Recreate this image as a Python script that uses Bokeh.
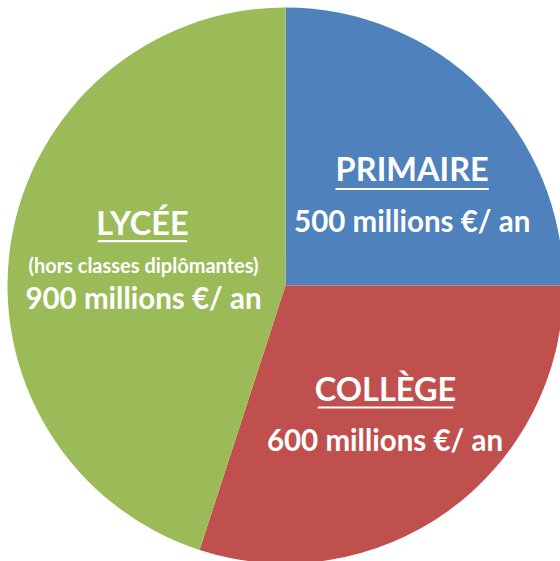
import numpy as np
from bokeh.plotting import figure
from bokeh.models import Range1d, ColumnDataSource
from bokeh.core.properties import value
from bokeh.embed import file_html
from bokeh.resources import INLINE

# ---- data ----
categories = ["PRIMAIRE", "COLLÈGE", "LYCÉE"]
amounts = [500, 600, 900]
amount_labels = ["500 millions €/ an", "600 millions €/ an", "900 millions €/ an"]
notes = ["", "", "(hors classes diplômantes)"]
colors = ["#4F81BD", "#C0504D", "#9BBB59"]

# ---- layout (label anchors, in pixel-like data units from the pie centre) ----
title_xy = [(126.7, 116.6), (100.0, -103.1), (-143.0, 62.6)]
amount_xy = [(126.7, 64.9), (99.5, -154.3), (-142.0, -11.6)]
note_xy = [(0, 0), (0, 0), (-142.0, 20.2)]
underline_span = [(50.0, 203.3, 96.5), (32.3, 167.7, -122.0), (-187.7, -98.3, 44.3)]

vals = np.array(amounts, dtype=float)
cum = np.concatenate([[0], np.cumsum(vals)])
frac = cum / cum[-1]
start = np.pi / 2 - 2 * np.pi * frac[:-1]
end = np.pi / 2 - 2 * np.pi * frac[1:]

src = ColumnDataSource(dict(cat=categories, start=start, end=end, color=colors))

W, H = 560, 561
p = figure(width=W, height=H, x_range=Range1d(-285, 275), y_range=Range1d(-276, 285),
           output_backend="svg", toolbar_location=None, min_border=0,
           background_fill_color="white", border_fill_color="white")
p.axis.visible = False
p.grid.visible = False
p.outline_line_color = None

p.wedge(x=0, y=0, radius=278, start_angle="start", end_angle="end", direction="clock",
        fill_color="color", line_color=None, source=src)

font = value("Lato")
tsrc = ColumnDataSource(dict(x=[t[0] for t in title_xy], y=[t[1] for t in title_xy], text=categories))
p.text(x="x", y="y", text="text", source=tsrc, text_font=font, text_font_style="bold",
       text_font_size="32.5px", text_color="white", text_align="center", text_baseline="alphabetic")

asrc = ColumnDataSource(dict(x=[t[0] for t in amount_xy], y=[t[1] for t in amount_xy], text=amount_labels))
p.text(x="x", y="y", text="text", source=asrc, text_font=font, text_font_style="bold",
       text_font_size="29.5px", text_color="white", text_align="center", text_baseline="alphabetic")

nx = [note_xy[i][0] for i in range(3) if notes[i]]
ny = [note_xy[i][1] for i in range(3) if notes[i]]
nt = [n for n in notes if n]
p.text(x=nx, y=ny, text=nt, text_font=font, text_font_style="bold",
       text_font_size="20px", text_color="white", text_align="center", text_baseline="alphabetic")

p.segment(x0=[u[0] for u in underline_span], x1=[u[1] for u in underline_span],
          y0=[u[2] for u in underline_span], y1=[u[2] for u in underline_span],
          line_color="white", line_width=2.2)

open("out.html", "w").write(file_html(p, INLINE))
